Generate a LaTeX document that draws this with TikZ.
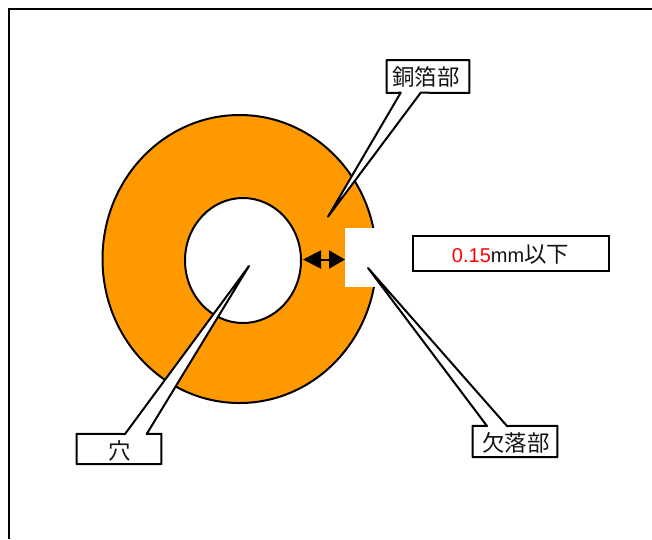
\documentclass[tikz,border=0pt]{standalone}
\usepackage{fontspec}
\setmainfont{Liberation Sans}
\newfontfamily\cjk{Noto Sans CJK JP}[Scale=1.12]
\usetikzlibrary{shapes.geometric,arrows.meta}
\definecolor{orangeRing}{RGB}{255,153,0}
\pgfdeclarelayer{under}
\pgfdeclarelayer{callouts}
\pgfsetlayers{under,callouts,main}
\tikzset{
  x=1pt,y=-1pt,
  ln/.style={line width=2pt,black},
  disc/.style={ellipse,draw,ln,inner sep=0pt},
  lab/.style={rectangle,inner sep=0pt,font=\fontsize{20}{20}\selectfont,text=black!92},
  callout/.style={ln,fill=white,line join=round},
  dimarrow/.style={ln,{Triangle[length=18pt,width=18pt]}-{Triangle[length=16pt,width=18pt]}}
}
\begin{document}
\begin{tikzpicture}
\useasboundingbox (0,0) rectangle (652,539);
\begin{pgfonlayer}{under}
\draw[ln] (9,539) -- (9,8.5) -- (652,8.5);
\node[disc,fill=orangeRing,minimum width=274pt,minimum height=288pt] (ring) at (239.5,259) {};
\node[disc,fill=white,minimum width=116pt,minimum height=125pt] (hole) at (243,260.5) {};
\node[rectangle,fill=white,inner sep=0pt,minimum width=36pt,minimum height=59pt,anchor=north west] (notch) at (345,228) {};
\coordinate (al) at (303,259.5);
\coordinate (ar) at (345,259.5);
\draw[dimarrow] (al) -- (ar);
\end{pgfonlayer}
% boxes
\node[lab,minimum width=82.5pt,minimum height=32.5pt] (copperbox) at (428,76.5) {};
\node[lab,minimum width=84.5pt,minimum height=30pt] (holebox) at (119,449) {};
\node[lab,minimum width=84.5pt,minimum height=31pt] (gapbox) at (515,441.5) {};
\node[rectangle,draw,ln,fill=white,inner sep=0pt,minimum width=196.5pt,minimum height=34.5pt] (dimbox) at (511,253.5) {};
\node[lab] at ([shift={(-0.5,1)}]dimbox.center) {\textcolor{red}{0.15}mm{\cjk 以下}};
\node[lab] at ([shift={(-2,0.5)}]copperbox.center) {\cjk 銅箔部};
\node[lab] at ([shift={(1,1.5)}]holebox.center) {\cjk 穴};
\node[lab] at ([shift={(1,1)}]gapbox.center) {\cjk 欠落部};
% callout tips
\coordinate (ctip) at (328,216.7);
\coordinate (htip) at (249,266);
\coordinate (gtip) at (368,268);
\begin{pgfonlayer}{callouts}
\draw[callout] (copperbox.north west) -- (copperbox.north east) -- (copperbox.south east)
  -- (420.7,92.7) -- (ctip) -- (400.7,92.7) -- (copperbox.south west) -- cycle;
\draw[callout] (holebox.north west) -- (125,434) -- (htip) -- (146.7,434)
  -- (holebox.north east) -- (holebox.south east) -- (holebox.south west) -- cycle;
\draw[callout] (gapbox.north west) -- (487,426) -- (gtip) -- (507,426)
  -- (gapbox.north east) -- (gapbox.south east) -- (gapbox.south west) -- cycle;
\end{pgfonlayer}
\end{tikzpicture}
\end{document}
